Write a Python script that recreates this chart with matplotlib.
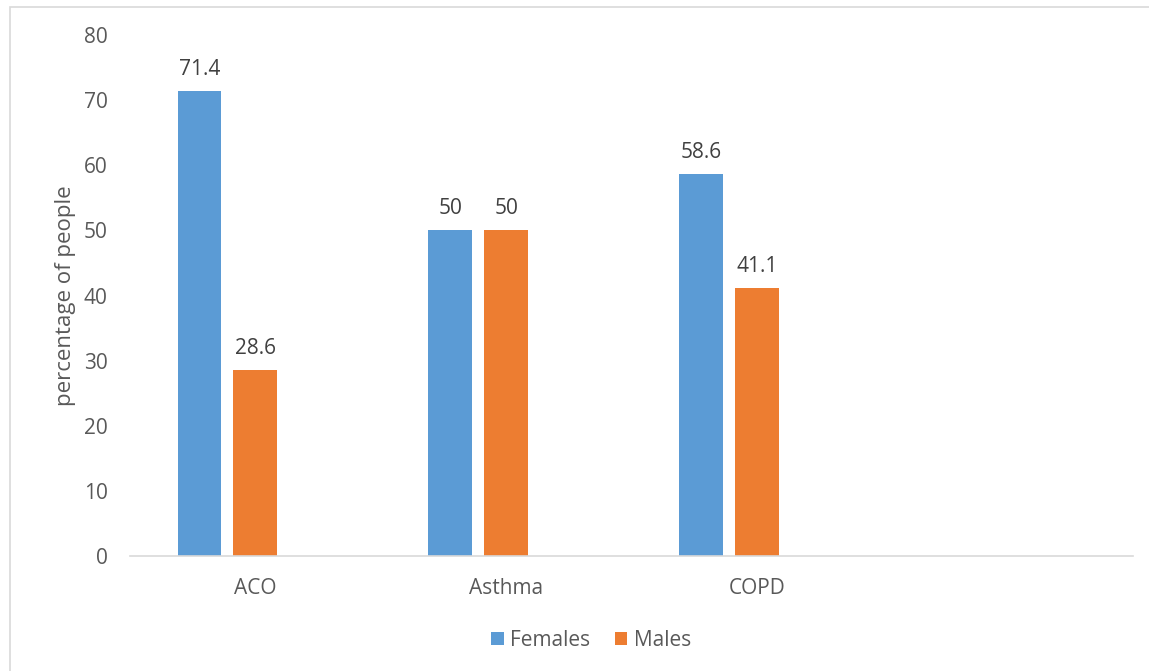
import matplotlib.pyplot as plt
from matplotlib.patches import Rectangle
import numpy as np

plt.rcParams['font.family'] = ['Open Sans', 'DejaVu Sans']

# 4th slot is an empty category, as in the original sheet
categories = ['ACO', 'Asthma', 'COPD', '']
females = [71.4, 50, 58.6, None]
males = [28.6, 50, 41.1, None]

BLUE = '#5B9BD5'
ORANGE = '#ED7D31'
GREY_TXT = '#595959'
FS = 15

fig = plt.figure(figsize=(11.49, 6.71), dpi=100)
ax = fig.add_axes([130 / 1149, 1 - 556 / 671, 1003 / 1149, 521 / 671])

# outer chart frame
fig.patches.append(Rectangle((10 / 1149, -0.05), 1.1, 1 - 7 / 671 + 0.05,
                             transform=fig.transFigure, fill=False,
                             edgecolor='#D9D9D9', linewidth=1.2))

x = np.arange(len(categories))
w = 0.175
step = 0.223

f_idx = [i for i, v in enumerate(females) if v is not None]
m_idx = [i for i, v in enumerate(males) if v is not None]
fb = ax.bar(x[f_idx] - step, [females[i] for i in f_idx], w, color=BLUE, label='Females')
mb = ax.bar(x[m_idx], [males[i] for i in m_idx], w, color=ORANGE, label='Males')

for bars in (fb, mb):
    for b in bars:
        h = b.get_height()
        ax.annotate(f'{h:g}', (b.get_x() + b.get_width() / 2, h),
                    xytext=(0, 8), textcoords='offset points',
                    ha='center', va='bottom', fontsize=FS, color='#404040')

ax.set_xlim(-0.5, len(categories) - 0.5)
ax.set_ylim(0, 80)
ax.set_yticks(range(0, 81, 10))
ax.set_xticks(x)
ax.set_xticklabels(categories)
ax.tick_params(axis='both', length=0, labelsize=FS, labelcolor=GREY_TXT)
ax.tick_params(axis='y', pad=16)
ax.tick_params(axis='x', pad=16)

for s in ('top', 'right', 'left'):
    ax.spines[s].set_visible(False)
ax.spines['bottom'].set_color('#D9D9D9')
ax.spines['bottom'].set_linewidth(1.2)

ax.set_ylabel('percentage of people', fontsize=16, color=GREY_TXT, va='center')
ax.yaxis.set_label_coords(-65 / 1003, 0.5)

ax.legend(loc='center', bbox_to_anchor=(591 / 1149, 1 - 640 / 671),
          bbox_transform=fig.transFigure, ncol=2, frameon=False,
          fontsize=FS, labelcolor=GREY_TXT, handlelength=0.6, handleheight=0.6,
          handletextpad=0.3, columnspacing=1.2)

fig.savefig('out.png', dpi=100)
